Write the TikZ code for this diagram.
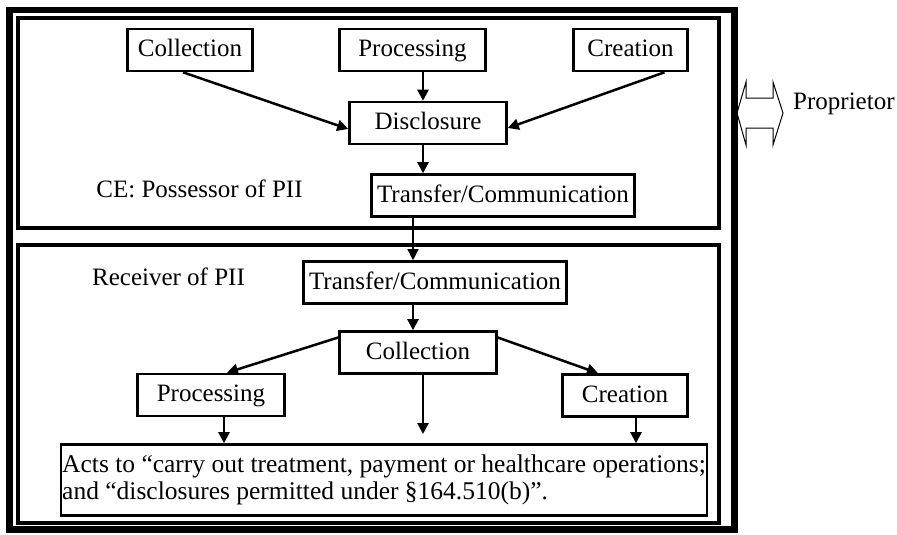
\documentclass[tikz,border=0pt]{standalone}
\usepackage{fontspec}
\setmainfont{Liberation Serif}
\usetikzlibrary{arrows.meta,calc}
\tikzset{
  stagebox/.style={draw=black,line width=2.6pt,inner sep=0pt,minimum height=42pt,
                   text height=18pt,text depth=5pt,
                   font=\fontsize{25}{27}\selectfont},
  frame/.style={draw=black,line width=4pt},
  outerframe/.style={draw=black,line width=6.5pt},
  flow/.style={-{Triangle[length=11pt,width=11pt]},line width=2.5pt},
  handoff/.style={-{Triangle[length=11pt,width=11pt]},line width=1.3pt},
  note/.style={font=\fontsize{25}{27}\selectfont}
}

\begin{document}
\begin{tikzpicture}[x=1pt,y=-1pt]
  \useasboundingbox (0,0) rectangle (897,535);

  % frames
  \draw[outerframe] (9.5,10) rectangle (734.5,529.5);
  \draw[frame] (18,18) rectangle (718.5,227.5);
  \draw[frame] (18,244.5) rectangle (718.5,522.5);

  % possessor side
  \node[stagebox,minimum width=125pt] (colA)  at (190,50)    {Collection};
  \node[stagebox,minimum width=146pt] (procA) at (412.5,50)  {Processing};
  \node[stagebox,minimum width=114pt] (creaA) at (630.5,50)  {Creation};
  \node[stagebox,minimum width=157pt] (disc)  at (428,123)   {Disclosure};
  \node[stagebox,minimum width=263pt] (tranA) at (503,195.5) {Transfer/Communication};
  \node[note,anchor=base] (possessor) at (199.5,197) {CE: Possessor of PII};

  % receiver side
  \node[note,anchor=base] (receiver) at (168.5,285) {Receiver of PII};
  \node[stagebox,minimum width=263pt] (tranB) at (435,282.5) {Transfer/Communication};
  \node[stagebox,minimum width=157pt] (colB)  at (418,352.5) {Collection};
  \node[stagebox,minimum width=147pt] (procB) at (211,395)   {Processing};
  \node[stagebox,minimum width=125pt] (creaB) at (625,395.5) {Creation};
  \node[stagebox,minimum width=643pt,minimum height=71pt,text height=,text depth=,
        inner sep=1pt,align=left,font=\fontsize{25.5}{27}\selectfont]
    (acts) at (384,480)
    {Acts to “carry out treatment, payment or healthcare operations;\\
     and “disclosures permitted under §164.510(b)”.};

  % proprietor
  \draw[line width=1pt,line join=miter] (737,113) -- (746,82) -- (746,98) -- (773,98)
    -- (773,82) -- (783,113) -- (773,145) -- (773,128) -- (746,128) -- (746,145) -- cycle;
  \node[note,anchor=base west,inner sep=0pt] (proprietor) at (793,110) {Proprietor};

  % helper coordinates
  \coordinate (spine) at (423,0);
  \coordinate (hand) at (413,0);
  \coordinate (colBend) at (423,434);
  \coordinate (procBout) at ([xshift=13pt]procB.south);
  \coordinate (creaBout) at ([xshift=11pt]creaB.south);

  % connectors
  \draw[flow] ([xshift=-7pt]colA.south) -- ([yshift=-6pt]disc.west);
  \draw[flow] (procA.south -| spine) -- (disc.north -| spine);
  \draw[flow] ([xshift=34pt]creaA.south) -- ([yshift=-5pt]disc.east);
  \draw[flow] (disc.south -| spine) -- (tranA.north -| spine);
  \draw[handoff] (tranA.south -| hand) -- (tranB.north -| hand);
  \draw[flow] (tranB.south -| hand) -- (colB.north -| hand);
  \draw[flow] ([yshift=15pt]colB.west) -- ([xshift=16pt]procB.north);
  \draw[flow] ([yshift=15pt]colB.east) -- ([xshift=-27pt]creaB.north);
  \draw[flow] (colB.south -| spine) -- (colBend);
  \draw[flow] (procBout) -- (procBout |- acts.north);
  \draw[flow] (creaBout) -- (creaBout |- acts.north);
\end{tikzpicture}
\end{document}
